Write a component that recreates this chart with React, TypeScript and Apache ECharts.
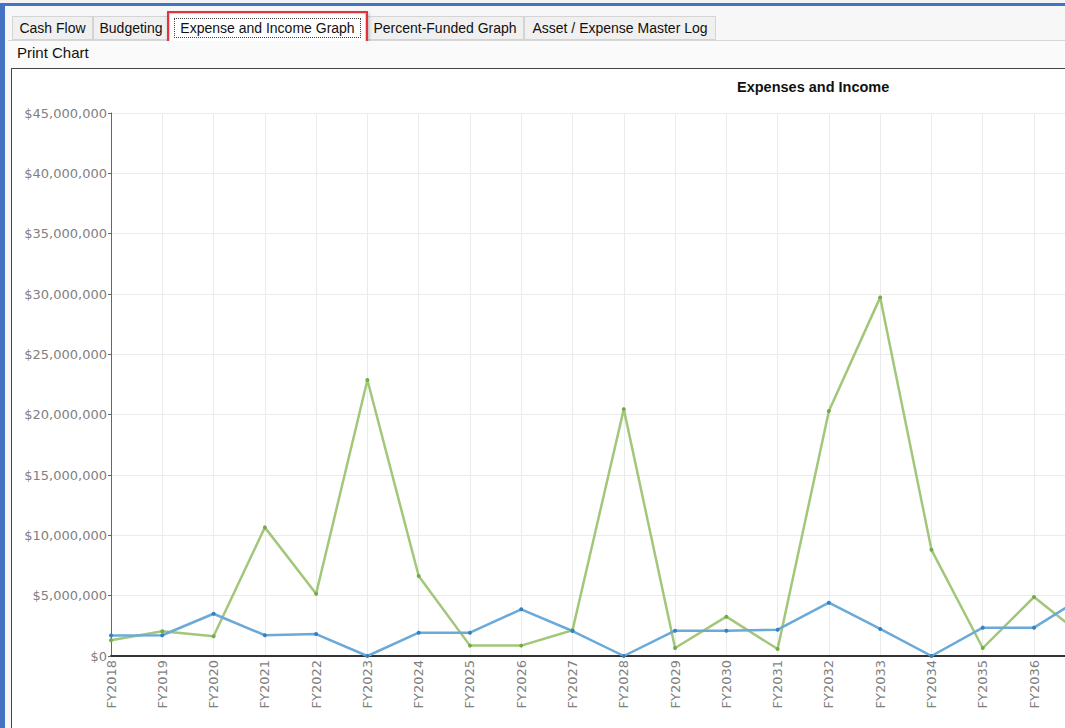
import React, { useEffect, useRef } from "react";
import * as echarts from "echarts";

const categories = [
  "FY2018", "FY2019", "FY2020", "FY2021", "FY2022", "FY2023", "FY2024",
  "FY2025", "FY2026", "FY2027", "FY2028", "FY2029", "FY2030", "FY2031",
  "FY2032", "FY2033", "FY2034", "FY2035", "FY2036", "FY2037",
];

const blueSeries = [
  1700000, 1720000, 3500000, 1720000, 1820000, 0, 1930000, 1930000, 3870000,
  2070000, 0, 2100000, 2100000, 2180000, 4420000, 2240000, 0, 2350000, 2350000,
  5000000,
];

const greenSeries = [
  1300000, 2050000, 1630000, 10660000, 5160000, 22870000, 6630000, 860000,
  860000, 2130000, 20460000, 660000, 3260000, 580000, 20300000, 29720000,
  8800000, 660000, 4890000, 1520000,
];

const tabs = [
  { label: "Cash Flow", x: 12, w: 81 },
  { label: "Budgeting", x: 93, w: 76 },
  { label: "Expense and Income Graph", x: 169, w: 197, active: true },
  { label: "Percent-Funded Graph", x: 366, w: 158 },
  { label: "Asset / Expense Master Log", x: 524, w: 192 },
];

const UI_FONT = "'Liberation Sans', Arial, sans-serif";

function Chart() {
  const ref = useRef<HTMLDivElement>(null);
  useEffect(() => {
    if (!ref.current) return;
    const chart = echarts.init(ref.current, null, { renderer: "svg" });
    chart.setOption({
      animation: false,
      backgroundColor: "#ffffff",
      graphic: [
        {
          type: "text",
          left: 725,
          top: 10,
          style: {
            text: "Expenses and Income",
            font: "bold 14.5px 'Liberation Sans', Arial, sans-serif",
            fill: "#111111",
          },
        },
      ],
      grid: { left: 99, top: 44, width: 974.3, height: 543 },
      xAxis: {
        type: "category",
        data: categories,
        boundaryGap: false,
        axisLine: { lineStyle: { color: "#333333", width: 2 } },
        axisTick: { show: false },
        axisLabel: {
          rotate: 90,
          margin: 4,
          color: "#7f7f7f",
          fontFamily: "'DejaVu Sans', Verdana, sans-serif",
          fontSize: 13,
          interval: (i: number) => i < categories.length - 1,
        },
        splitLine: { show: true, lineStyle: { color: "#ebebeb", width: 1 } },
      },
      yAxis: {
        type: "value",
        min: 0,
        max: 45000000,
        interval: 5000000,
        axisLine: { show: true, lineStyle: { color: "#666666", width: 1 } },
        axisTick: { show: true, length: 3, lineStyle: { color: "#666666" } },
        axisLabel: {
          margin: 4,
          color: "#7f7f7f",
          fontFamily: "'DejaVu Sans', Verdana, sans-serif",
          fontSize: 13,
          formatter: (v: number) => "$" + v.toLocaleString("en-US"),
        },
        splitLine: { show: true, lineStyle: { color: "#ebebeb", width: 1 } },
      },
      series: [
        {
          type: "line",
          data: greenSeries,
          symbol: "circle",
          symbolSize: 4,
          itemStyle: { color: "#74ab44" },
          lineStyle: { color: "#a3c77a", width: 2.5 },
        },
        {
          type: "line",
          data: blueSeries,
          symbol: "circle",
          symbolSize: 4,
          itemStyle: { color: "#3182c4" },
          lineStyle: { color: "#6aa9d8", width: 2.5 },
        },
      ],
    });
    return () => chart.dispose();
  }, []);
  return <div ref={ref} style={{ width: 1150, height: 700 }} />;
}

export default function App() {
  return (
    <div
      style={{
        position: "fixed",
        left: 0,
        top: 0,
        width: 1065,
        height: 728,
        overflow: "hidden",
        background: "#f3f3f3",
        fontFamily: UI_FONT,
      }}
    >
      {/* window blue border */}
      <div style={{ position: "absolute", left: 0, top: 3, width: 5, height: 725, background: "#4473c5" }} />
      <div style={{ position: "absolute", left: 0, top: 3, width: 1065, height: 3, background: "#4473c5" }} />
      <div style={{ position: "absolute", left: 5, top: 6, width: 1060, height: 722, background: "#f7f7f7" }} />
      {/* tab strip */}
      <div style={{ position: "absolute", left: 8, top: 40, width: 1057, height: 1, background: "#d6d6d6" }} />
      {tabs.map((t) => (
        <div
          key={t.label}
          style={{
            position: "absolute",
            left: t.x,
            top: t.active ? 13 : 16,
            width: t.w,
            height: t.active ? 28 : 24,
            boxSizing: "border-box",
            border: "1px solid #d4d4d4",
            borderBottom: t.active ? "none" : "1px solid #d4d4d4",
            background: t.active ? "#ffffff" : "#f0f0f0",
            fontSize: 14,
            color: "#111",
            display: "flex",
            alignItems: "center",
            justifyContent: "center",
            whiteSpace: "nowrap",
          }}
        >
          {t.active ? (
            <span style={{ border: "1px dotted #444", padding: "1px 5px" }}>{t.label}</span>
          ) : (
            t.label
          )}
        </div>
      ))}
      {/* red highlight */}
      <div
        style={{
          position: "absolute",
          left: 167,
          top: 11,
          width: 201,
          height: 32,
          boxSizing: "border-box",
          border: "2px solid #e3343b",
          boxShadow: "1px 2px 3px rgba(0,0,0,0.25)",
        }}
      />
      {/* print chart row */}
      <div style={{ position: "absolute", left: 8, top: 41, width: 1057, height: 27, background: "#fafafa" }} />
      <div style={{ position: "absolute", left: 17, top: 44, fontSize: 15, color: "#111" }}>Print Chart</div>
      {/* chart frame */}
      <div
        style={{
          position: "absolute",
          left: 11,
          top: 68,
          width: 1200,
          height: 720,
          border: "1px solid #444",
          background: "#fff",
          overflow: "hidden",
        }}
      >
        <Chart />
      </div>
    </div>
  );
}
